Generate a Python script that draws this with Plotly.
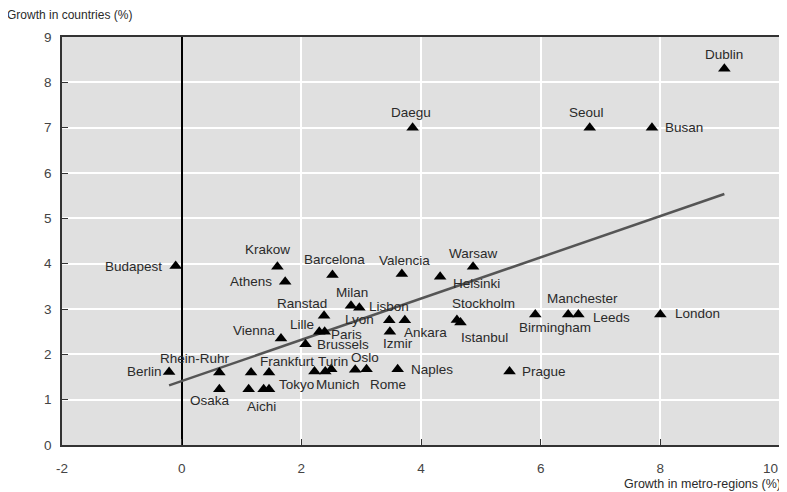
import plotly.graph_objects as go

# ---------------- data ----------------
cities = [
    "Dublin", "Daegu", "Seoul", "Busan", "Budapest", "Krakow", "Athens",
    "Barcelona", "Valencia", "Helsinki", "Warsaw", "Milan", "Lyon", "Ranstad",
    "Lisbon", "Ankara", "Izmir", "Stockholm", "Istanbul", "Lille", "Paris",
    "Vienna", "Brussels", "Berlin", "Rhein-Ruhr", "", "Frankfurt", "", "Turin",
    "Munich", "Oslo", "Rome", "Naples", "Prague", "Osaka", "", "Aichi", "Tokyo",
    "Birmingham", "Manchester", "Leeds", "London",
]
metro_growth = [
    9.07, 3.86, 6.82, 7.86, -0.10, 1.60, 1.73,
    2.52, 3.68, 4.32, 4.87, 2.83, 2.97, 2.38,
    3.47, 3.73, 3.48, 4.60, 4.66, 2.30, 2.39,
    1.66, 2.07, -0.21, 0.63, 1.16, 1.46, 2.22, 2.40,
    2.50, 2.90, 3.09, 3.61, 5.48, 0.63, 1.12, 1.37, 1.46,
    5.91, 6.46, 6.63, 8.00,
]
country_growth = [
    8.30, 7.00, 7.00, 7.00, 3.95, 3.93, 3.60,
    3.75, 3.77, 3.71, 3.93, 3.07, 3.03, 2.85,
    2.75, 2.75, 2.50, 2.76, 2.70, 2.50, 2.50,
    2.35, 2.22, 1.61, 1.60, 1.60, 1.60, 1.62, 1.62,
    1.67, 1.66, 1.67, 1.67, 1.62, 1.23, 1.23, 1.23, 1.23,
    2.88, 2.88, 2.88, 2.88,
]
x_ticks = [-2, 0, 2, 4, 6, 8, 10]
x_tick_labels = ["-2", "0", "2", "4", "6", "8", "10"]
y_ticks = [0, 1, 2, 3, 4, 5, 6, 7, 8, 9]
y_tick_labels = ["0", "1", "2", "3", "4", "5", "6", "7", "8", "9"]
trend_intercept = 1.41
trend_slope = 0.455

# ---------------- label placement (pixel offsets: dx right, dy down) ----------------
label_offsets = {
    "Dublin": (0, -14), "Daegu": (-2, -15), "Seoul": (-3, -15), "Busan": (32, 0),
    "Budapest": (-42, 1), "Krakow": (-10, -17), "Athens": (-34, 0),
    "Barcelona": (2, -16), "Valencia": (3, -14), "Helsinki": (36, 7),
    "Warsaw": (0, -13), "Milan": (1, -13), "Lyon": (0, 12), "Ranstad": (-22, -12),
    "Lisbon": (0, -14), "Ankara": (21, 12), "Izmir": (8, 12),
    "Stockholm": (27, -16), "Istanbul": (24, 15), "Lille": (-17, -7),
    "Paris": (22, 3), "Vienna": (-27, -8), "Brussels": (37, 0),
    "Berlin": (-25, -1), "Rhein-Ruhr": (-24, -14), "Frankfurt": (18, -11),
    "Turin": (8, -10), "Munich": (7, 15), "Oslo": (10, -12), "Rome": (21, 15),
    "Naples": (34, 0), "Prague": (34, 0), "Osaka": (-9, 11), "Aichi": (-2, 17),
    "Tokyo": (27, -5), "Birmingham": (20, 13), "Manchester": (14, -16),
    "Leeds": (33, 3), "London": (37, -1),
}

FONT = "Liberation Sans"
TEXT_COL = "#2a2a2a"
TICK_COL = "#444444"
LABEL_SIZE = 13.5
TICK_SIZE = 13.5

fig = go.Figure()

# trend line over the span of the data
x0, x1 = min(metro_growth), max(metro_growth)
fig.add_trace(go.Scatter(
    x=[x0, x1],
    y=[trend_intercept + trend_slope * x0, trend_intercept + trend_slope * x1],
    mode="lines", line=dict(color="#555555", width=2.5),
    hoverinfo="skip", showlegend=False,
))

fig.add_trace(go.Scatter(
    x=metro_growth, y=country_growth, mode="markers",
    marker=dict(symbol="triangle-up", size=11, color="black"),
    text=cities, showlegend=False,
))

annotations = []
for name, mx, cy in zip(cities, metro_growth, country_growth):
    if not name:
        continue
    dx, dy = label_offsets.get(name, (0, -13))
    annotations.append(dict(
        x=mx, y=cy, xref="x", yref="y", text=name, showarrow=False,
        xshift=dx, yshift=-dy, xanchor="center", yanchor="middle",
        font=dict(family=FONT, size=LABEL_SIZE, color=TEXT_COL),
    ))

annotations.append(dict(
    x=0, y=1, xref="paper", yref="paper", xshift=-57, yshift=22,
    text="Growth in countries (%)", showarrow=False,
    xanchor="left", yanchor="middle",
    font=dict(family=FONT, size=12, color=TEXT_COL),
))
annotations.append(dict(
    x=1, y=0, xref="paper", yref="paper", xshift=3, yshift=-39,
    text="Growth in metro-regions (%)", showarrow=False,
    xanchor="right", yanchor="middle",
    font=dict(family=FONT, size=12.5, color=TEXT_COL),
))

# the last x tick label sits flush with the frame's right edge in the reference
last_tick, last_label = x_ticks[-1], x_tick_labels[-1]
annotations.append(dict(
    x=last_tick, y=0, xref="x", yref="paper", xshift=0, yshift=-23,
    text=last_label, showarrow=False, xanchor="right", yanchor="middle",
    font=dict(family=FONT, size=TICK_SIZE, color=TICK_COL),
))
x_text = x_tick_labels[:-1] + [""]

axis_common = dict(
    showgrid=True, gridcolor="white", gridwidth=1.5,
    showline=True, mirror=True, linecolor="#333333", linewidth=1.5,
    ticks="inside", ticklen=6, tickcolor="#333333", tickwidth=1.2,
    tickfont=dict(family=FONT, size=TICK_SIZE, color=TICK_COL),
)

# page body has an 8px margin: size the figure so it fits the 787x492 window
fig.update_layout(
    width=779, height=484,
    margin=dict(l=54, r=5, t=29, b=47),
    paper_bgcolor="white", plot_bgcolor="#e0e0e0",
    font=dict(family=FONT, size=13, color=TEXT_COL),
    xaxis=dict(range=[-2, 10], tickvals=x_ticks, ticktext=x_text,
               zeroline=True, zerolinecolor="black", zerolinewidth=1.5,
               ticklabelstandoff=10, **axis_common),
    yaxis=dict(range=[0, 9], tickvals=y_ticks, ticktext=y_tick_labels,
               zeroline=False, ticklabelstandoff=6, **axis_common),
    annotations=annotations,
)

fig.write_html("out.html")
